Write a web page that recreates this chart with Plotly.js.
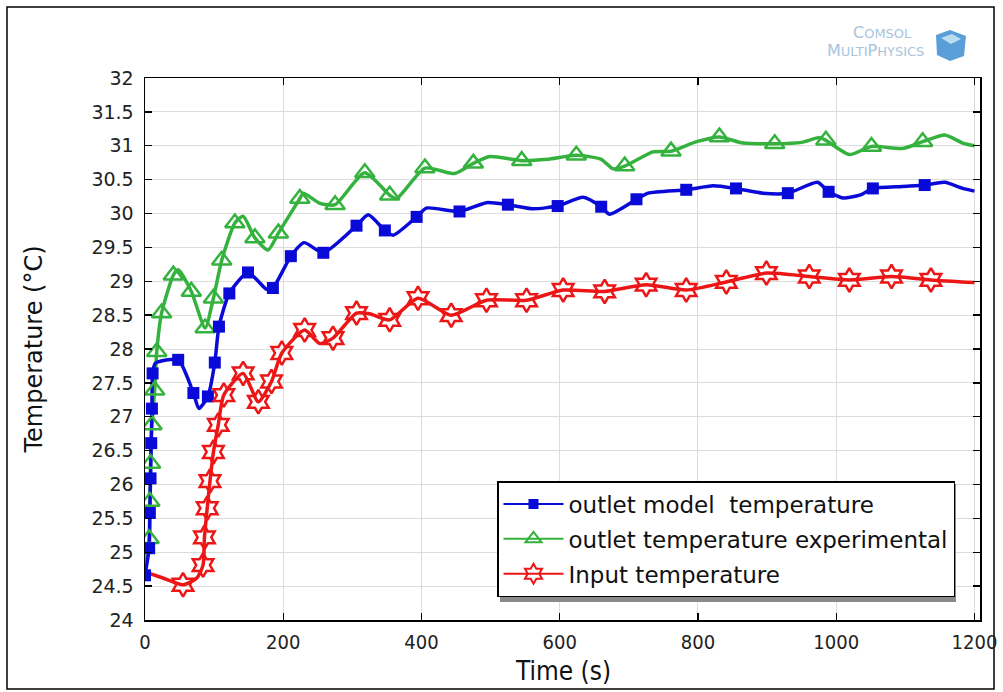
<!DOCTYPE html>
<html><head><meta charset="utf-8">
<script src="https://cdn.plot.ly/plotly-3.0.1.min.js"></script>
<style>html,body{margin:0;padding:0;background:#fff}#chart{width:1003px;height:692px}</style>
</head><body><div id="chart"></div>
<script>
// ---- data ----
const seriesNames = ['outlet model  temperature', 'outlet temperature experimental', 'Input temperature'];

// outlet model temperature (blue) - curve vertices
const modelLineT = [0, 6, 7, 8, 9, 10, 11, 15, 48, 70, 78, 91, 101, 107, 122, 149, 176, 185, 211, 230, 258, 306, 323, 347, 359, 393, 407, 455, 494, 525, 561, 597, 634, 660, 672, 711, 728, 783, 822, 855, 894, 930, 973, 989, 1010, 1034, 1053, 1096, 1128, 1157, 1183, 1200];
const modelLineY = [24.66, 25.06, 25.58, 26.09, 26.61, 27.12, 27.64, 27.79, 27.84, 27.35, 27.12, 27.30, 27.80, 28.33, 28.82, 29.13, 28.88, 28.90, 29.37, 29.57, 29.42, 29.82, 29.98, 29.75, 29.68, 29.95, 30.08, 30.03, 30.16, 30.13, 30.07, 30.11, 30.24, 30.10, 29.99, 30.21, 30.30, 30.35, 30.41, 30.37, 30.30, 30.30, 30.46, 30.32, 30.23, 30.27, 30.37, 30.40, 30.42, 30.46, 30.37, 30.33];
// blue square markers
const modelMarkT = [0, 6, 7, 8, 9, 10, 11, 48, 70, 91, 101, 107, 122, 149, 185, 211, 258, 306, 347, 393, 455, 525, 597, 660, 711, 783, 855, 930, 989, 1053, 1128];
const modelMarkY = [24.66, 25.06, 25.58, 26.09, 26.61, 27.12, 27.64, 27.84, 27.35, 27.30, 27.80, 28.33, 28.82, 29.13, 28.90, 29.37, 29.42, 29.82, 29.75, 29.95, 30.03, 30.13, 30.11, 30.10, 30.21, 30.35, 30.37, 30.30, 30.32, 30.37, 30.42];

// outlet temperature experimental (green)
const expLineT = [0, 6, 7, 8, 10, 14, 17, 24, 41, 48, 67, 87, 99, 111, 130, 142, 159, 178, 193, 224, 229, 253, 275, 318, 354, 364, 405, 448, 475, 499, 545, 582, 624, 660, 677, 694, 735, 761, 798, 831, 865, 911, 950, 976, 985, 1019, 1051, 1096, 1125, 1157, 1183, 1200];
const expLineY = [24.76, 25.20, 25.75, 26.31, 26.88, 27.39, 27.96, 28.53, 29.09, 29.17, 28.85, 28.31, 28.75, 29.31, 29.86, 29.96, 29.64, 29.46, 29.71, 30.22, 30.30, 30.15, 30.13, 30.60, 30.27, 30.22, 30.67, 30.59, 30.74, 30.84, 30.78, 30.80, 30.86, 30.80, 30.66, 30.70, 30.91, 30.92, 31.06, 31.13, 31.04, 31.03, 31.05, 31.12, 31.08, 30.87, 30.99, 30.96, 31.06, 31.16, 31.04, 31.00];
// green triangle markers
const expMarkT = [6, 7, 8, 10, 14, 17, 24, 41, 67, 87, 99, 111, 130, 159, 193, 224, 275, 318, 354, 405, 475, 545, 624, 694, 761, 831, 911, 985, 1051, 1125];
const expMarkY = [25.20, 25.75, 26.31, 26.88, 27.39, 27.96, 28.53, 29.09, 28.85, 28.31, 28.75, 29.31, 29.86, 29.64, 29.71, 30.22, 30.13, 30.60, 30.27, 30.67, 30.74, 30.78, 30.86, 30.70, 30.92, 31.13, 31.03, 31.08, 30.99, 31.06];

// Input temperature (red)
const inLineT = [0, 26, 55, 75, 84, 86, 90, 94, 99, 106, 114, 142, 164, 183, 198, 231, 253, 272, 306, 325, 354, 395, 443, 494, 552, 605, 665, 725, 783, 841, 899, 961, 1019, 1080, 1137, 1200];
const inLineY = [24.71, 24.62, 24.52, 24.62, 24.81, 25.22, 25.65, 26.05, 26.48, 26.88, 27.32, 27.64, 27.22, 27.52, 27.94, 28.28, 28.08, 28.16, 28.53, 28.52, 28.43, 28.75, 28.50, 28.72, 28.72, 28.87, 28.85, 28.95, 28.87, 28.99, 29.12, 29.07, 29.02, 29.07, 29.02, 28.98];
// red hexagram markers
const inMarkT = [55, 84, 86, 90, 94, 99, 106, 114, 142, 164, 183, 198, 231, 272, 306, 354, 395, 443, 494, 552, 605, 665, 725, 783, 841, 899, 961, 1019, 1080, 1137];
const inMarkY = [24.52, 24.81, 25.22, 25.65, 26.05, 26.48, 26.88, 27.32, 27.64, 27.22, 27.52, 27.94, 28.28, 28.16, 28.53, 28.43, 28.75, 28.50, 28.72, 28.72, 28.87, 28.85, 28.95, 28.87, 28.99, 29.12, 29.07, 29.02, 29.07, 29.02];

const xTickVals = [0, 200, 400, 600, 800, 1000, 1200];
const yTickVals = [24, 24.5, 25, 25.5, 26, 26.5, 27, 27.5, 28, 28.5, 29, 29.5, 30, 30.5, 31, 31.5, 32];
const yTickText = ['24', '24.5', '25', '25.5', '26', '26.5', '27', '27.5', '28', '28.5', '29', '29.5', '30', '30.5', '31', '31.5', '32'];
const xTitle = 'Time (s)';
const yTitle = 'Temperature (°C)';

// ---- styles ----
const BLUE = '#0a0ad8', GREEN = '#35b23e', RED = '#ec1616';
const LW = 3.5;

function lineTrace(x, y, color, group) {
  return {x: x, y: y, type: 'scatter', mode: 'lines', line: {color: color, width: LW, shape: 'spline', smoothing: 0.6},
          showlegend: false, legendgroup: group, hoverinfo: 'skip'};
}
function markTrace(x, y, marker, group) {
  return {x: x, y: y, type: 'scatter', mode: 'markers', marker: marker, showlegend: false, legendgroup: group};
}
function legendTrace(name, color, marker, group) {
  return {x: [null], y: [null], type: 'scatter', mode: 'lines+markers', name: name,
          line: {color: color, width: 2}, marker: marker, legendgroup: group, showlegend: true};
}

const mkBlue = {symbol: 'square', size: 12, color: BLUE};
const mkGreen = {symbol: 'triangle-up-open', size: 17, color: GREEN, line: {color: GREEN, width: 2.5}};
const mkRed = {symbol: 'hexagram-open', size: 18, color: RED, line: {color: RED, width: 2.5}};

const traces = [
  lineTrace(expLineT, expLineY, GREEN, 'g'),
  lineTrace(modelLineT, modelLineY, BLUE, 'b'),
  lineTrace(inLineT, inLineY, RED, 'r'),
  markTrace(expMarkT, expMarkY, mkGreen, 'g'),
  markTrace(modelMarkT, modelMarkY, mkBlue, 'b'),
  markTrace(inMarkT, inMarkY, mkRed, 'r'),
  legendTrace(seriesNames[0], BLUE, {symbol: 'square', size: 10, color: BLUE}, 'b'),
  legendTrace(seriesNames[1], GREEN, {symbol: 'triangle-up-open', size: 14, color: GREEN, line: {color: GREEN, width: 2}}, 'g'),
  legendTrace(seriesNames[2], RED, {symbol: 'hexagram-open', size: 15, color: RED, line: {color: RED, width: 2}}, 'r')
];

// pixel -> paper helpers for decorations (plot area: x 145..980, y 78..620)
const PL = 145, PR = 980, PT = 78, PB = 620;
const px = v => (v - PL) / (PR - PL);
const py = v => (PB - v) / (PB - PT);

const axisCommon = {
  showline: true, linecolor: '#000', linewidth: 1.5, mirror: 'ticks',
  ticks: 'inside', ticklen: 7, tickwidth: 1.3, tickcolor: '#000',
  showgrid: true, gridcolor: '#dcdcdc', gridwidth: 1, zeroline: false
};

const layout = {
  width: 1003, height: 692,
  paper_bgcolor: '#fff', plot_bgcolor: '#fff',
  margin: {l: PL, r: 1003 - PR, t: PT, b: 692 - PB},
  font: {family: 'DejaVu Sans, sans-serif', color: '#222'},
  xaxis: Object.assign({}, axisCommon, {
    range: [0, 1208], tickmode: 'array', tickvals: xTickVals,
    tickfont: {family: 'DejaVu Sans Condensed, Liberation Sans Narrow, DejaVu Sans', size: 20, color: '#222'},
    ticklabelstandoff: 3
  }),
  yaxis: Object.assign({}, axisCommon, {
    range: [24, 32], tickmode: 'array', tickvals: yTickVals, ticktext: yTickText,
    tickfont: {family: 'DejaVu Sans', size: 19, color: '#222'},
    ticklabelstandoff: 6,
    title: {text: yTitle, font: {family: 'DejaVu Sans', size: 24, color: '#111'}, standoff: 42}
  }),
  legend: {
    x: px(497), y: py(481), xanchor: 'left', yanchor: 'top',
    bgcolor: '#fff', bordercolor: '#000', borderwidth: 1.5,
    font: {family: 'DejaVu Sans', size: 23, color: '#111'},
    itemwidth: 60, tracegroupgap: 2, traceorder: 'grouped'
  },
  shapes: [
    {type: 'rect', xref: 'paper', yref: 'paper', x0: px(7), x1: px(994), y0: py(689), y1: py(7), line: {color: '#000', width: 1.5}, fillcolor: 'rgba(0,0,0,0)', layer: 'below'},
    {type: 'rect', xref: 'paper', yref: 'paper', x0: px(500), x1: px(956), y0: py(602), y1: py(484), line: {width: 0}, fillcolor: '#8a8a8a', layer: 'above'},
    {type: 'path', xref: 'paper', yref: 'paper', layer: 'above',
     path: `M ${px(936)} ${py(35)} L ${px(950)} ${py(30)} L ${px(966)} ${py(36)} L ${px(964)} ${py(56)} L ${px(950)} ${py(61)} L ${px(937)} ${py(55)} Z`,
     fillcolor: '#5a9fd8', line: {width: 0}},
    {type: 'path', xref: 'paper', yref: 'paper', layer: 'above',
     path: `M ${px(941)} ${py(38)} L ${px(952)} ${py(34)} L ${px(961)} ${py(39)} L ${px(951)} ${py(44)} Z`,
     fillcolor: '#bcdcf2', line: {width: 0}}
  ],
  annotations: [
    {xref: 'paper', yref: 'paper', x: 0.5, y: py(671), xanchor: 'center', yanchor: 'middle', showarrow: false,
     text: xTitle, font: {family: 'DejaVu Sans Condensed, Liberation Sans Narrow, DejaVu Sans', size: 26, color: '#111'}},
    {xref: 'paper', yref: 'paper', x: px(914), y: py(33), xanchor: 'right', yanchor: 'middle', showarrow: false,
     text: 'C<span style="font-size:13px">OMSOL</span>', font: {family: 'DejaVu Sans', size: 16, color: '#a9c4dc'}},
    {xref: 'paper', yref: 'paper', x: px(926), y: py(50), xanchor: 'right', yanchor: 'middle', showarrow: false,
     text: 'M<span style="font-size:13px">ULTI</span>P<span style="font-size:13px">HYSICS</span>', font: {family: 'DejaVu Sans', size: 16, color: '#a9c4dc'}}
  ]
};

Plotly.newPlot('chart', traces, layout, {displayModeBar: false, staticPlot: true});
</script>
</body></html>
